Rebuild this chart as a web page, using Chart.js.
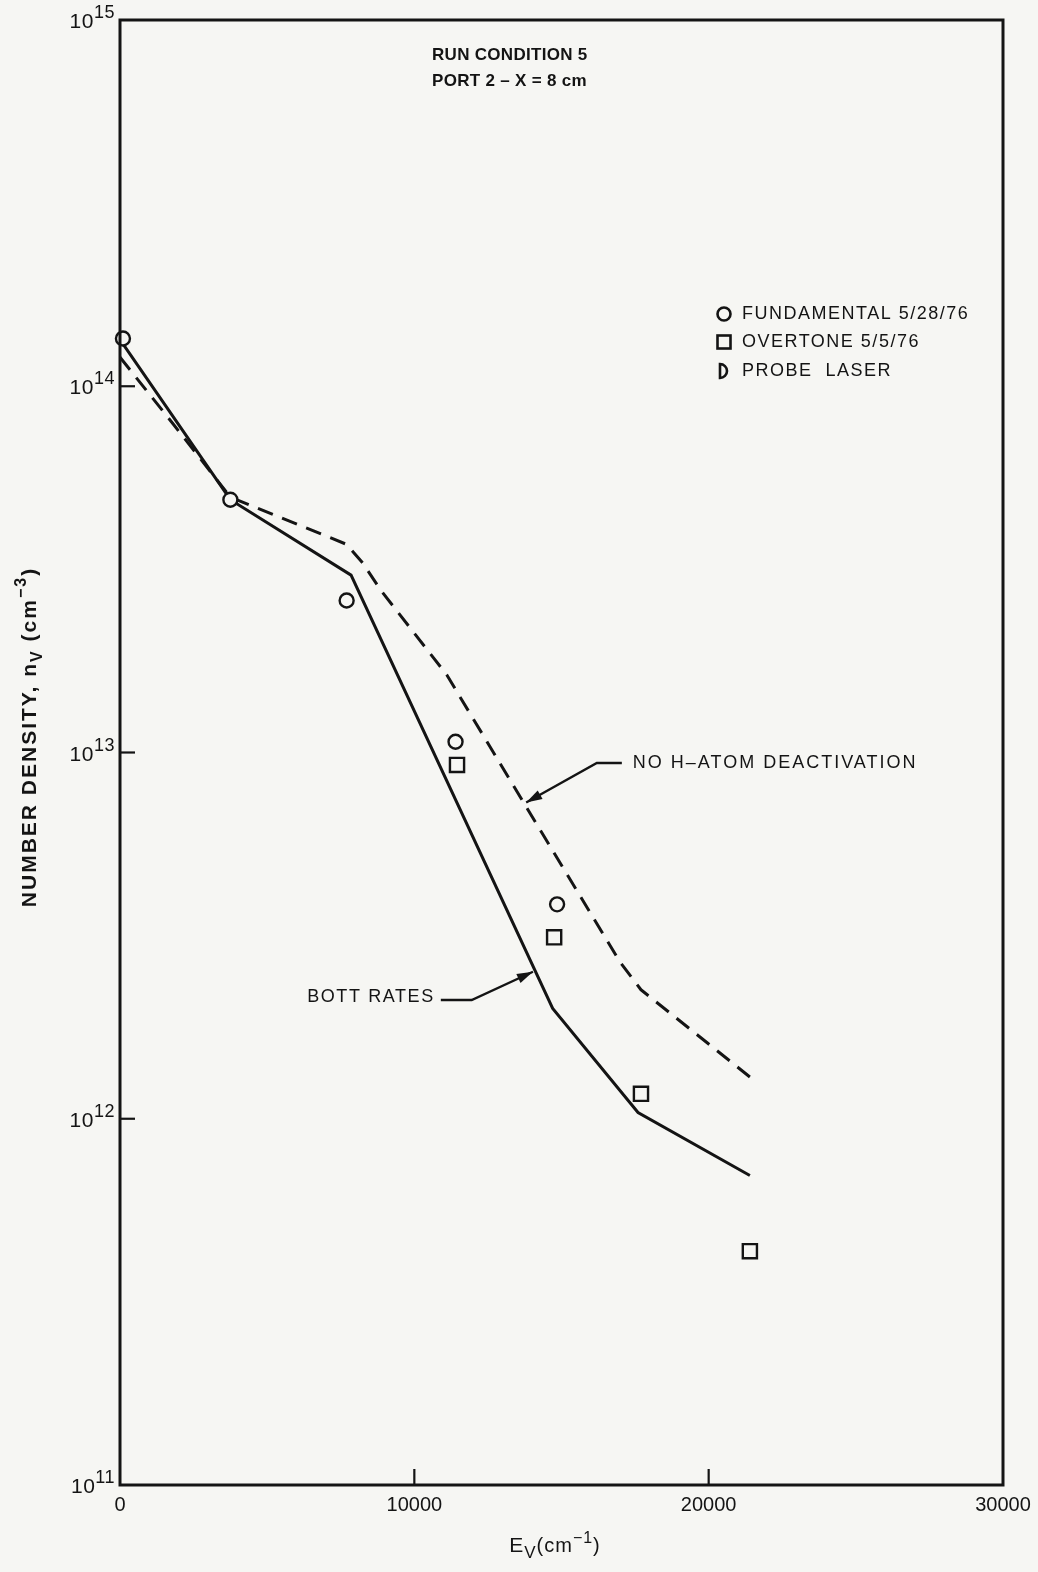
<!DOCTYPE html>
<html>
<head>
<meta charset="utf-8">
<script src="https://cdn.jsdelivr.net/npm/chart.js@4.4.1/dist/chart.umd.min.js"></script>
<style>
  html, body { margin: 0; padding: 0; background: #f6f6f3; }
  #wrap { width: 1038px; height: 1572px; }
</style>
</head>
<body>
<div id="wrap"><canvas id="nvChart" width="1038" height="1572"></canvas></div>
<script>
// axis ticks
const xTicks = [0, 10000, 20000, 30000];
const yExp = [11, 12, 13, 14, 15];

// BOTT RATES (solid)
const bottX = [0, 3750, 7850, 14700, 17600, 21400];
const bottY = [1.34e14, 4.9e13, 3.05e13, 2.0e12, 1.04e12, 7.0e11];

// NO H-ATOM DEACTIVATION (dashed)
const noHX = [0, 1800, 3750, 7700, 8250, 8850, 11100, 13850, 17000, 17700, 21400];
const noHY = [1.2e14, 7.9e13, 4.98e13, 3.7e13, 3.29e13, 2.78e13, 1.63e13, 7.0e12, 2.67e12, 2.25e12, 1.3e12];

// measured points
const fundX = [100, 3750, 7700, 11400, 14850];
const fundY = [1.35e14, 4.9e13, 2.6e13, 1.07e13, 3.85e12];
const overX = [11450, 14750, 17700, 21400];
const overY = [9.25e12, 3.13e12, 1.17e12, 4.35e11];

// leader arrows (data units)
const noHLeader = [[17050, 9.36e12], [16200, 9.36e12], [13800, 7.3e12]];
const bottLeader = [[10900, 2.11e12], [11950, 2.11e12], [14030, 2.52e12]];

const legendItems = ['FUNDAMENTAL 5/28/76', 'OVERTONE 5/5/76', 'PROBE  LASER'];

const ink = '#141414';
const paper = '#f6f6f3';
const fam = '"Liberation Sans", Arial, Helvetica, sans-serif';

function pairs(xs, ys) {
  return xs.map((x, i) => ({ x: x, y: ys[i] }));
}

function fontOf(p) {
  return (p.bold ? 'bold ' : '') + p.size + 'px ' + fam;
}

function richWidth(ctx, parts) {
  let w = 0;
  parts.forEach(p => { ctx.font = fontOf(p); w += ctx.measureText(p.t).width; });
  return w;
}

function drawRich(ctx, parts, x, y) {
  parts.forEach(p => {
    ctx.font = fontOf(p);
    ctx.fillText(p.t, x, y + (p.dy || 0));
    x += ctx.measureText(p.t).width;
  });
}

function leader(ctx, pts) {
  ctx.beginPath();
  ctx.moveTo(pts[0][0], pts[0][1]);
  for (let i = 1; i < pts.length; i++) ctx.lineTo(pts[i][0], pts[i][1]);
  ctx.stroke();
  const [x1, y1] = pts[pts.length - 2];
  const [x2, y2] = pts[pts.length - 1];
  const ang = Math.atan2(y2 - y1, x2 - x1);
  const len = 16, half = 5;
  ctx.beginPath();
  ctx.moveTo(x2, y2);
  ctx.lineTo(x2 - len * Math.cos(ang) + half * Math.sin(ang), y2 - len * Math.sin(ang) - half * Math.cos(ang));
  ctx.lineTo(x2 - len * Math.cos(ang) - half * Math.sin(ang), y2 - len * Math.sin(ang) + half * Math.cos(ang));
  ctx.closePath();
  ctx.fill();
}

const decorPlugin = {
  id: 'decor',
  afterDraw(chart) {
    const { ctx, chartArea: a, scales } = chart;
    const xs = scales.x, ys = scales.y;
    ctx.save();
    ctx.strokeStyle = ink;
    ctx.fillStyle = ink;
    ctx.lineWidth = 3;
    ctx.lineCap = 'butt';
    ctx.strokeRect(a.left, a.top, a.right - a.left, a.bottom - a.top);

    // inner tick marks
    ctx.lineWidth = 2.2;
    xTicks.slice(1, -1).forEach(v => {
      const px = xs.getPixelForValue(v);
      ctx.beginPath(); ctx.moveTo(px, a.bottom); ctx.lineTo(px, a.bottom - 16); ctx.stroke();
    });
    yExp.slice(1, -1).forEach(e => {
      const py = ys.getPixelForValue(Math.pow(10, e));
      ctx.beginPath(); ctx.moveTo(a.left, py); ctx.lineTo(a.left + 15, py); ctx.stroke();
    });

    // x tick labels
    ctx.font = '20px ' + fam;
    ctx.textAlign = 'center';
    ctx.textBaseline = 'middle';
    xTicks.forEach(v => {
      ctx.fillText(String(v), xs.getPixelForValue(v), a.bottom + 20);
    });

    // y tick labels 10^n
    ctx.textAlign = 'left';
    ctx.textBaseline = 'alphabetic';
    ctx.letterSpacing = '0.5px';
    yExp.forEach(e => {
      const py = ys.getPixelForValue(Math.pow(10, e));
      const parts = [{ t: '10', size: 21 }, { t: String(e), size: 18, dy: -10 }];
      const w = richWidth(ctx, parts);
      drawRich(ctx, parts, a.left - 5 - w, py + 8);
    });

    // x title
    ctx.letterSpacing = '1px';
    const xt = [
      { t: 'E', size: 21 }, { t: 'V', size: 17, dy: 6 },
      { t: '(cm', size: 20 }, { t: '\u22121', size: 16, dy: -9 }, { t: ')', size: 20 }
    ];
    const xw = richWidth(ctx, xt);
    drawRich(ctx, xt, 555 - xw / 2, a.bottom + 67);

    // y title (rotated)
    ctx.letterSpacing = '2px';
    const yt = [
      { t: 'NUMBER DENSITY, n', size: 21, bold: true },
      { t: 'V', size: 16, bold: true, dy: 6 },
      { t: ' (cm', size: 21, bold: true },
      { t: '\u22123', size: 16, bold: true, dy: -10 },
      { t: ')', size: 21, bold: true }
    ];
    ctx.save();
    ctx.translate(36, 737);
    ctx.rotate(-Math.PI / 2);
    const yw = richWidth(ctx, yt);
    drawRich(ctx, yt, -yw / 2, 0);
    ctx.restore();

    // run condition note
    ctx.letterSpacing = '0.3px';
    ctx.font = 'bold 17px ' + fam;
    ctx.textBaseline = 'middle';
    ctx.fillText('RUN CONDITION 5', 432, 55);
    ctx.fillText('PORT 2 \u2013 X = 8 cm', 432, 81);

    // legend
    const lx = 724;
    const rows = [314, 342, 371];
    ctx.lineWidth = 2.6;
    ctx.font = '18px ' + fam;
    ctx.letterSpacing = '1.5px';
    ctx.beginPath(); ctx.arc(lx, rows[0], 6.5, 0, Math.PI * 2); ctx.stroke();
    ctx.strokeRect(lx - 6.5, rows[1] - 6.5, 13, 13);
    ctx.beginPath();
    ctx.moveTo(lx - 4, rows[2] - 7);
    ctx.arc(lx - 4, rows[2], 7, -Math.PI / 2, Math.PI / 2, false);
    ctx.closePath();
    ctx.stroke();
    legendItems.forEach((t, i) => ctx.fillText(t, 742, rows[i]));

    // annotations with arrows
    ctx.lineWidth = 2.4;
    const toPx = p => [xs.getPixelForValue(p[0]), ys.getPixelForValue(p[1])];
    const nh = noHLeader.map(toPx);
    const bt = bottLeader.map(toPx);
    leader(ctx, nh);
    leader(ctx, bt);
    ctx.letterSpacing = '2px';
    ctx.textAlign = 'left';
    ctx.fillText('NO H\u2013ATOM DEACTIVATION', nh[0][0] + 11, nh[0][1]);
    ctx.letterSpacing = '1.6px';
    ctx.textAlign = 'right';
    ctx.fillText('BOTT RATES', bt[0][0] - 6, bt[0][1] - 3);
    ctx.restore();
  }
};

new Chart(document.getElementById('nvChart').getContext('2d'), {
  type: 'line',
  data: {
    datasets: [
      {
        label: 'FUNDAMENTAL 5/28/76',
        data: pairs(fundX, fundY),
        showLine: false,
        pointStyle: 'circle',
        pointRadius: 7,
        pointBorderWidth: 2.4,
        pointBackgroundColor: paper,
        pointBorderColor: ink,
        clip: false
      },
      {
        label: 'OVERTONE 5/5/76',
        data: pairs(overX, overY),
        showLine: false,
        pointStyle: 'rect',
        pointRadius: 10,
        pointBorderWidth: 2.4,
        pointBackgroundColor: paper,
        pointBorderColor: ink,
        clip: false
      },
      {
        label: 'BOTT RATES',
        data: pairs(bottX, bottY),
        borderColor: ink,
        borderWidth: 3,
        pointRadius: 0,
        tension: 0,
        fill: false,
        clip: false
      },
      {
        label: 'NO H-ATOM DEACTIVATION',
        data: pairs(noHX, noHY),
        borderColor: ink,
        borderWidth: 3,
        borderDash: [16, 10],
        borderJoinStyle: 'round',
        pointRadius: 0,
        tension: 0,
        fill: false,
        clip: false
      }
    ]
  },
  options: {
    responsive: false,
    animation: false,
    layout: { padding: { left: 120, top: 20, right: 35, bottom: 87 } },
    plugins: { legend: { display: false }, tooltip: { enabled: false } },
    scales: {
      x: { type: 'linear', min: 0, max: 30000, display: false },
      y: { type: 'logarithmic', min: 1e11, max: 1e15, display: false }
    }
  },
  plugins: [decorPlugin]
});
</script>
</body>
</html>
